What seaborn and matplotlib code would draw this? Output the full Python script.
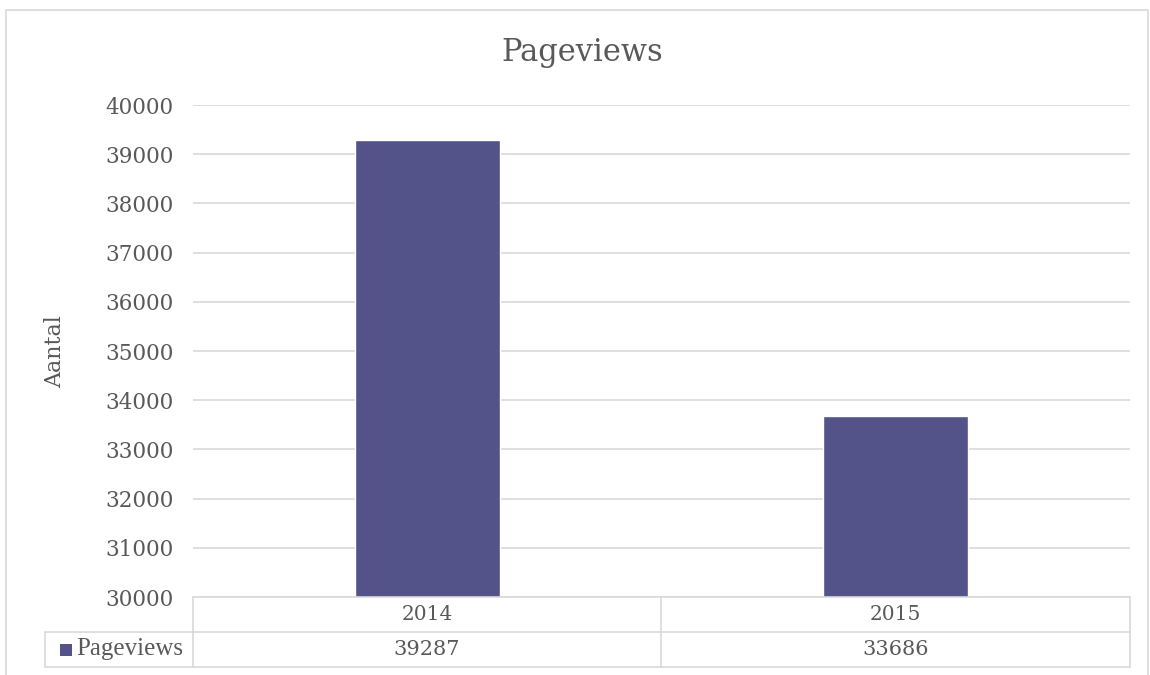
import matplotlib
matplotlib.use("Agg")
import matplotlib.pyplot as plt
from matplotlib.patches import Rectangle
import seaborn as sns
import pandas as pd

years = ["2014", "2015"]
pageviews = [39287, 33686]
series_name = "Pageviews"
title = "Pageviews"
ylabel = "Aantal"
y_ticks = list(range(30000, 40001, 1000))

sns.set_theme(style="white")
plt.rcParams["font.family"] = ["DejaVu Serif", "Liberation Serif"]

TXT = "#595959"
GRID = "#d9d9d9"
BAR = "#535389"

df = pd.DataFrame({"year": years, "value": pageviews})

fig = plt.figure(figsize=(11.5, 6.75), dpi=100)
# outer chart border
fig.patches.append(Rectangle((6 / 1150, -0.05), 1142 / 1150, 1.05 - 10 / 675,
                             transform=fig.transFigure, fill=False,
                             edgecolor=GRID, linewidth=1.2))

ax = fig.add_axes([193 / 1150, 1 - 597 / 675, (1130 - 193) / 1150, (597 - 105) / 675])
sns.barplot(data=df, x="year", y="value", color=BAR, width=0.31, ax=ax,
            saturation=1, errorbar=None)
ax.set_ylim(30000, 40000)
ax.set_yticks(y_ticks)
ax.set_yticklabels([str(t) for t in y_ticks], fontsize=15.5, color=TXT)
ax.tick_params(axis="y", length=0, pad=14)
ax.set_xticks([])
ax.set_xlabel("")
ax.set_ylabel("")
for s in ax.spines.values():
    s.set_visible(False)
ax.yaxis.grid(True, color=GRID, linewidth=1.2)
ax.set_axisbelow(True)

fig.text(582 / 1150, 1 - 52 / 675, title, ha="center", va="center",
         fontsize=22, color=TXT)
fig.text(55 / 1150, 1 - 352 / 675, ylabel, ha="center", va="center",
         rotation=90, fontsize=16, color=TXT)

# data table below the axes
def fx(px):
    return px / 1150

def fy(py):
    return 1 - py / 675

lw = 1.2
x0, xm, x1, xl = 193, 661, 1130, 45
yA, yB, yC = 597, 632, 667
lines = [
    ((x0, x0), (yA, yC)), ((xm, xm), (yA, yC)), ((x1, x1), (yA, yC)),
    ((x0, x1), (yA, yA)), ((xl, x1), (yB, yB)), ((xl, x1), (yC, yC)),
    ((xl, xl), (yB, yC)),
]
for (xs, ys) in lines:
    fig.add_artist(plt.Line2D([fx(v) for v in xs], [fy(v) for v in ys],
                              color=GRID, linewidth=lw, transform=fig.transFigure))

centers = [(x0 + xm) / 2, (xm + x1) / 2]
for cx, yr, val in zip(centers, years, pageviews):
    fig.text(fx(cx), fy((yA + yB) / 2), yr, ha="center", va="center",
             fontsize=14.5, color=TXT)
    fig.text(fx(cx), fy((yB + yC) / 2), str(val), ha="center", va="center",
             fontsize=15, color=TXT)

fig.patches.append(Rectangle((fx(60), fy(656)), 12 / 1150, 12 / 675,
                             transform=fig.transFigure, facecolor=BAR,
                             edgecolor="none"))
fig.text(fx(76), fy((yB + yC) / 2), series_name, ha="left", va="center",
         fontsize=18, color=TXT, family=["Liberation Serif", "DejaVu Serif"])

fig.savefig("out.png", dpi=100)
